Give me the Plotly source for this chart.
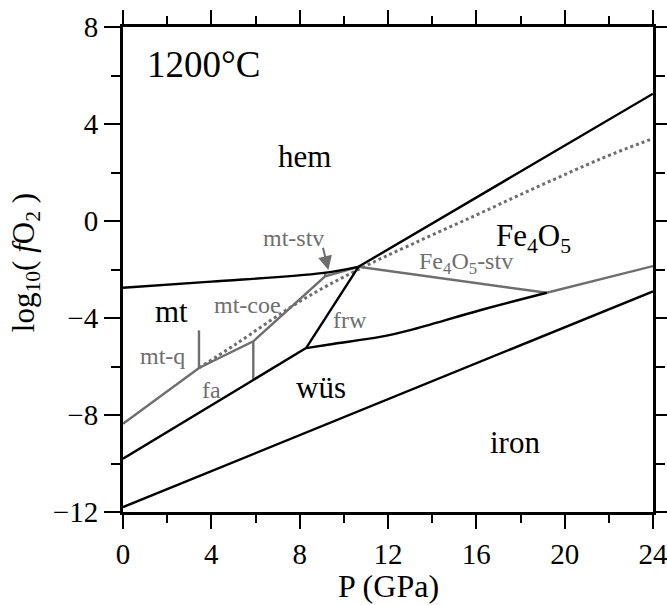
import plotly.graph_objects as go

# ---- boundary data (P in GPa, log10 fO2) ----
hem_mt_x = [0, 4, 9, 10.66]
hem_mt_y = [-2.75, -2.5, -2.15, -1.89]

hem_fe4o5_x = [10.66, 24]
hem_fe4o5_y = [-1.89, 5.25]

dotted_x = [3.44, 5.07, 8.02, 10.66, 15.57, 21.6, 24]
dotted_y = [-6.06, -5.1, -3.31, -2.0, 0.07, 2.55, 3.4]

grey_main_x = [0, 3.44, 5.90, 9.15, 10.66, 19.19, 24]
grey_main_y = [-8.36, -6.06, -4.96, -2.28, -1.89, -2.96, -1.86]

mtq_x = [3.44, 3.44]
mtq_y = [-6.06, -4.51]
coe_x = [5.9, 5.9]
coe_y = [-4.96, -6.55]
stv_x = [9.15, 9.15]
stv_y = [-2.28, -2.14]

mt_wus_x = [0, 8.29]
mt_wus_y = [-9.8, -5.24]

frw_x = [8.29, 10.66]
frw_y = [-5.24, -1.89]

wus_fe4o5_x = [8.29, 9.5, 11.64, 13.0, 16.17, 19.19]
wus_fe4o5_y = [-5.24, -5.07, -4.78, -4.5, -3.68, -2.96]

iron_x = [0, 24]
iron_y = [-11.8, -2.9]

x_ticks = [0, 4, 8, 12, 16, 20, 24]
y_ticks = [-12, -8, -4, 0, 4, 8]

BLACK = "#000000"
GREY = "#6e6e6e"
FONT = "Liberation Serif, Times New Roman, serif"

fig = go.Figure()

def add_line(x, y, color, width=2.4, dash="solid", shape="linear"):
    fig.add_trace(go.Scatter(x=x, y=y, mode="lines",
                             line=dict(color=color, width=width, dash=dash, shape=shape),
                             hoverinfo="skip", showlegend=False))

add_line(dotted_x, dotted_y, GREY, width=3, dash="dot", shape="spline")
add_line(grey_main_x, grey_main_y, GREY)
add_line(mtq_x, mtq_y, GREY)
add_line(coe_x, coe_y, GREY)
add_line(stv_x, stv_y, GREY)
add_line(hem_mt_x, hem_mt_y, BLACK, shape="spline")
add_line(hem_fe4o5_x, hem_fe4o5_y, BLACK)
add_line(mt_wus_x, mt_wus_y, BLACK)
add_line(frw_x, frw_y, BLACK)
add_line(wus_fe4o5_x, wus_fe4o5_y, BLACK, shape="spline")
add_line(iron_x, iron_y, BLACK)

# ---- labels ----
labels = [
    ("1200°C", 1.0, 6.45, 37, BLACK, "left"),
    ("hem", 8.24, 2.67, 31, BLACK, "center"),
    ("Fe<sub>4</sub>O<sub>5</sub>", 18.57, -0.7, 31, BLACK, "center"),
    ("mt", 2.2, -3.74, 31, BLACK, "center"),
    ("wüs", 8.97, -6.88, 31, BLACK, "center"),
    ("iron", 17.75, -9.15, 31, BLACK, "center"),
    ("mt-q", 1.77, -5.55, 24, GREY, "center"),
    ("fa", 3.99, -6.96, 24, GREY, "center"),
    ("mt-coe", 5.64, -3.47, 24, GREY, "center"),
    ("frw", 10.28, -4.07, 24, GREY, "center"),
    ("mt-stv", 7.71, -0.69, 24, GREY, "center"),
    ("Fe<sub>4</sub>O<sub>5</sub>-stv", 15.53, -1.72, 24, GREY, "center"),
]
for txt, x, y, size, color, anchor in labels:
    fig.add_annotation(x=x, y=y, text=txt, showarrow=False, xanchor=anchor,
                       yanchor="middle", font=dict(family=FONT, size=size, color=color))

# arrow for mt-stv
fig.add_annotation(x=9.3, y=-2.02, ax=9.04, ay=-1.04, axref="x", ayref="y",
                   xref="x", yref="y", text="", showarrow=True,
                   arrowhead=2, arrowsize=1.4, arrowwidth=2, arrowcolor=GREY)

# axis titles
fig.add_annotation(x=0.5, y=-0.1918, xref="paper", yref="paper", text="P (GPa)",
                   showarrow=False, xanchor="center", yanchor="bottom", borderpad=0,
                   font=dict(family=FONT, size=32, color=BLACK))
fig.add_annotation(x=-0.183, y=0.513, xref="paper", yref="paper",
                   text="log<sub>10</sub>( <i>f</i>O<sub>2</sub> )", textangle=-90,
                   showarrow=False, xanchor="center", yanchor="middle",
                   font=dict(family=FONT, size=31, color=BLACK))

axis_common = dict(
    showline=True, linewidth=3, linecolor=BLACK, mirror="allticks",
    ticks="outside", tickwidth=2, tickcolor=BLACK,
    showgrid=False, zeroline=False, automargin=False, ticklabeloverflow="allow",
    tickfont=dict(family=FONT, size=29, color=BLACK),
)

fig.update_xaxes(range=[0, 24], tickvals=x_ticks, ticklen=14,
                 minor=dict(ticks="outside", ticklen=8, tickwidth=2, tickcolor=BLACK, dtick=2, showgrid=False),
                 **axis_common)
fig.update_yaxes(range=[-12, 8], tickvals=y_ticks, ticklen=16,
                 minor=dict(ticks="outside", ticklen=9, tickwidth=2, tickcolor=BLACK, dtick=2, showgrid=False),
                 **axis_common)

fig.update_layout(
    width=667, height=605,
    margin=dict(l=123, r=14, t=27, b=93, autoexpand=False),
    paper_bgcolor="white", plot_bgcolor="white",
    font=dict(family=FONT, color=BLACK),
)

fig.write_html("out.html")
